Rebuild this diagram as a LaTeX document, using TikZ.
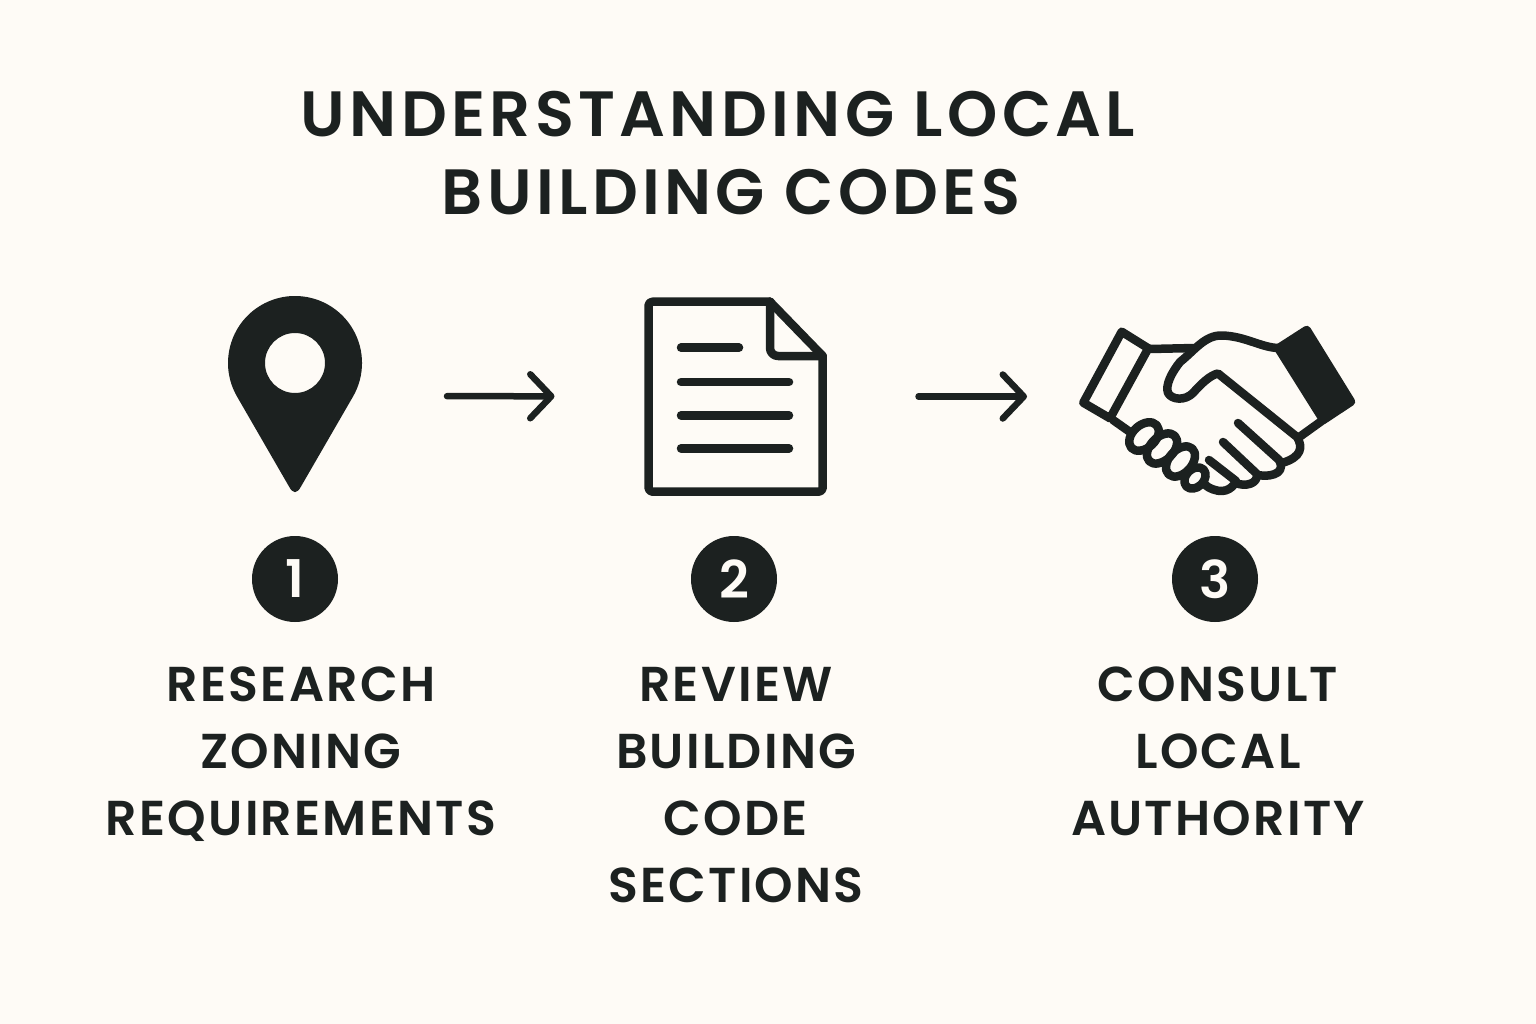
\documentclass[tikz,border=0pt]{standalone}
\usepackage{fontspec}
\setmainfont{Poppins}[UprightFont=*]
\newfontfamily\titlefont{Poppins}[LetterSpace=6.8,UprightFont=* SemiBold]
\newfontfamily\labelfont{Poppins}[LetterSpace=4.6,UprightFont=* SemiBold]
\newfontfamily\numfont{Poppins}[UprightFont=* SemiBold]
\usetikzlibrary{arrows.meta}
\definecolor{ink}{RGB}{28,33,32}
\definecolor{paper}{RGB}{254,251,246}
\tikzset{
  x=1pt,y=-1pt,
  icon/.style={draw=none,inner sep=0pt,outer sep=0pt},
  stroke/.style={draw=ink,line width=8.5pt,line cap=round,line join=round},
  flow/.style={draw=ink,line width=6.5pt,line cap=round,-{Straight Barb[round,length=21pt,width=44pt]}},
  titletext/.style={text=ink,inner sep=0pt,font=\titlefont\fontsize{64}{78}\selectfont},
  steptext/.style={text=ink,inner sep=0pt,align=center,font=\labelfont\fontsize{49}{67}\selectfont},
  badge/.style={circle,fill=ink,text=paper,inner sep=0pt,minimum size=86pt,font=\numfont\fontsize{52}{52}\selectfont},
}
\begin{document}
\begin{tikzpicture}
\useasboundingbox (0,0) rectangle (1536,1024);
\fill[paper] (0,0) rectangle (1536,1024);
% title
\node[titletext] (t1) at (718,114) {UNDERSTANDING LOCAL};
\node[titletext] (t2) at (731,192) {BUILDING CODES};
% pin
\node[icon,minimum width=134pt,minimum height=196pt] (pin) at (295,396) {};
\fill[ink,even odd rule]
  (237,396.5) arc[start angle=150,end angle=390,radius=67]
  -- (301,486.5) .. controls (297,494) and (293,494) .. (289,486.5) -- cycle
  (325,363) arc[start angle=0,end angle=360,radius=30];
% document
\node[icon,minimum width=182pt,minimum height=198pt] (doc) at (735.5,396.5) {};
\draw[stroke,rounded corners=4pt] (770,301.7) -- (648.5,301.7) -- (648.5,491.7) -- (822.7,491.7) -- (822.7,356);
\draw[stroke] (770,301.7) -- (822.7,356);
\draw[stroke,rounded corners=8pt] (770,301.7) -- (770,356) -- (822.7,356);
\draw[stroke] (681,347.7) -- (739,347.7);
\draw[stroke] (681,382) -- (789,382);
\draw[stroke] (681,415.3) -- (789,415.3);
\draw[stroke] (681,448.3) -- (789,448.3);
% handshake
\node[icon,minimum width=276pt,minimum height=168pt] (hands) at (1217,412) {};
\draw[stroke] (1121.7,331.7) -- (1148.3,348.3) -- (1110,418.3) -- (1083.3,402.7) -- cycle;
\draw[stroke] (1150,349) -- (1195,348);
\draw[stroke] (1279,348) .. controls (1262,348) and (1245,336) .. (1222,335.5)
  .. controls (1205,335) and (1195,350) .. (1180,362)
  .. controls (1172,372) and (1165,385) .. (1168,393)
  .. controls (1172,400) and (1185,401) .. (1193,393)
  .. controls (1200,385) and (1210,375) .. (1218,373.5)
  -- (1297,437)
  .. controls (1303,447) and (1302,457) .. (1282,463)
  (1238,423) -- (1279,460)
  .. controls (1285,470) and (1277,478) .. (1257,475)
  (1223,442) -- (1257,474)
  .. controls (1258,484) and (1245,487) .. (1236,483)
  (1209,460) -- (1236,481)
  .. controls (1232,490) and (1222,495) .. (1208,487) -- (1204,484);
\fill[ink,stroke] (1306.7,330) -- (1351,401.7) -- (1323.3,420) -- (1278.3,348.3) -- cycle;
\draw[stroke] (1323,420) -- (1298,438);
\draw[stroke] (1113,420) -- (1130,432);
\draw[stroke,rotate around={42:(1144,436.5)}] (1144,436.5) ellipse[x radius=17,y radius=11.5];
\draw[stroke,rotate around={45:(1162,448.5)}] (1162,448.5) ellipse[x radius=18,y radius=11.5];
\draw[stroke,rotate around={48:(1180.5,461.5)}] (1180.5,461.5) ellipse[x radius=17.5,y radius=11.5];
\draw[stroke,rotate around={45:(1195,478)}] (1195,478) ellipse[x radius=12,y radius=9];
% arrows
\draw[flow,shorten <=85pt,shorten >=90pt] (pin) -- (doc);
\draw[flow,shorten <=92pt,shorten >=52pt] (doc) -- (hands.west |- doc);
% badges
\node[badge] (b1) at (295,579) {1};
\node[badge] (b2) at (734,579) {2};
\node[badge] (b3) at (1215,579) {3};
% labels
\node[steptext] (l1) at (301,754) {RESEARCH\\ZONING\\REQUIREMENTS};
\node[steptext] (l2) at (736,785) {REVIEW\\BUILDING\\CODE\\SECTIONS};
\node[steptext] (l3) at (1218,751) {CONSULT\\LOCAL\\AUTHORITY};
\end{tikzpicture}
\end{document}
